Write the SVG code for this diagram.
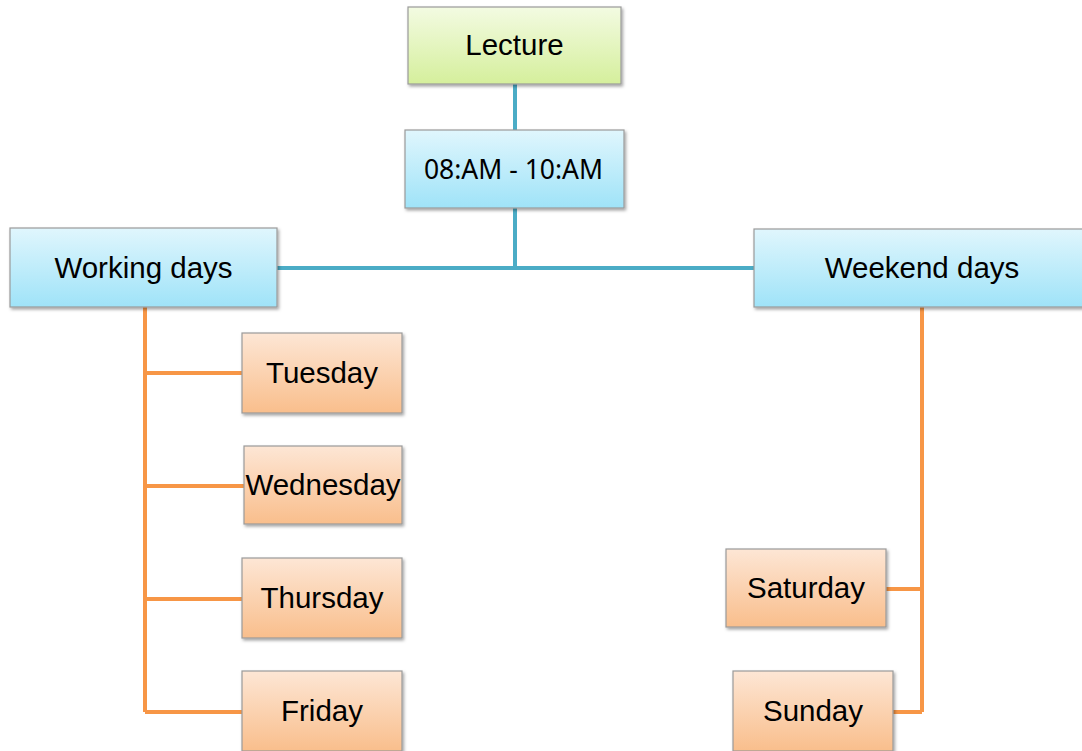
<svg xmlns="http://www.w3.org/2000/svg" width="1082" height="751" viewBox="0 0 1082 751">
<style>
.box{stroke:#9a9a9a;stroke-width:1.2;filter:url(#sh)}
.green{fill:url(#gGreen)}
.blue{fill:url(#gBlue)}
.orange{fill:url(#gOrange)}
.t{font-family:"Liberation Sans",Arial,sans-serif;font-size:29.5px;fill:#000;text-anchor:middle}
.t2{font-family:"Noto Sans","Open Sans",sans-serif;font-size:26.5px;fill:#000;text-anchor:middle}
.cb{stroke:#4BACC6;stroke-width:4;fill:none}
.co{stroke:#F79646;stroke-width:4;fill:none}
</style>
<defs>
<linearGradient id="gGreen" x1="0" y1="0" x2="0" y2="1"><stop offset="0" stop-color="#F3FBE2"/><stop offset="1" stop-color="#D5EF9C"/></linearGradient>
<linearGradient id="gBlue" x1="0" y1="0" x2="0" y2="1"><stop offset="0" stop-color="#E0F6FD"/><stop offset="1" stop-color="#9FE3F8"/></linearGradient>
<linearGradient id="gOrange" x1="0" y1="0" x2="0" y2="1"><stop offset="0" stop-color="#FDE6D5"/><stop offset="1" stop-color="#F9BE8C"/></linearGradient>
<filter id="sh" x="-10%" y="-10%" width="130%" height="130%"><feDropShadow dx="1.5" dy="2" stdDeviation="1.5" flood-color="#000" flood-opacity="0.35"/></filter>
</defs>
<rect width="1082" height="751" fill="#fff"/>
<g id="connectors">
<path class="cb" d="M515 84 V130"/>
<path class="cb" d="M515 208 V268"/>
<path class="cb" d="M277 268 H754"/>
<path class="co" d="M145 307 V712"/>
<path class="co" d="M145 373 H242"/>
<path class="co" d="M145 486 H244"/>
<path class="co" d="M145 599 H242"/>
<path class="co" d="M145 712 H242"/>
<path class="co" d="M922 307 V712"/>
<path class="co" d="M886 589 H922"/>
<path class="co" d="M893 712 H922"/>
</g>
<g id="lecture"><rect class="box green" x="408" y="7" width="213" height="77"/><text class="t" x="514.5" y="55">Lecture</text></g>
<g id="time"><rect class="box blue" x="405" y="130" width="219" height="78"/><text class="t2" x="513.5" y="179">08:AM - 10:AM</text></g>
<g id="working"><rect class="box blue" x="10" y="228" width="267" height="79"/><text class="t" x="143.5" y="278">Working days</text></g>
<g id="weekend"><rect class="box blue" x="754" y="229" width="330" height="78"/><text class="t" x="922" y="278">Weekend days</text></g>
<g id="tuesday"><rect class="box orange" x="242" y="333" width="160" height="80"/><text class="t" x="322" y="383">Tuesday</text></g>
<g id="wednesday"><rect class="box orange" x="244" y="446" width="158" height="78"/><text class="t" x="323" y="495">Wednesday</text></g>
<g id="thursday"><rect class="box orange" x="242" y="558" width="160" height="80"/><text class="t" x="322" y="608">Thursday</text></g>
<g id="friday"><rect class="box orange" x="242" y="671" width="160" height="80"/><text class="t" x="322" y="721">Friday</text></g>
<g id="saturday"><rect class="box orange" x="726" y="549" width="160" height="78"/><text class="t" x="806" y="598">Saturday</text></g>
<g id="sunday"><rect class="box orange" x="733" y="671" width="160" height="80"/><text class="t" x="813" y="721">Sunday</text></g>
</svg>
